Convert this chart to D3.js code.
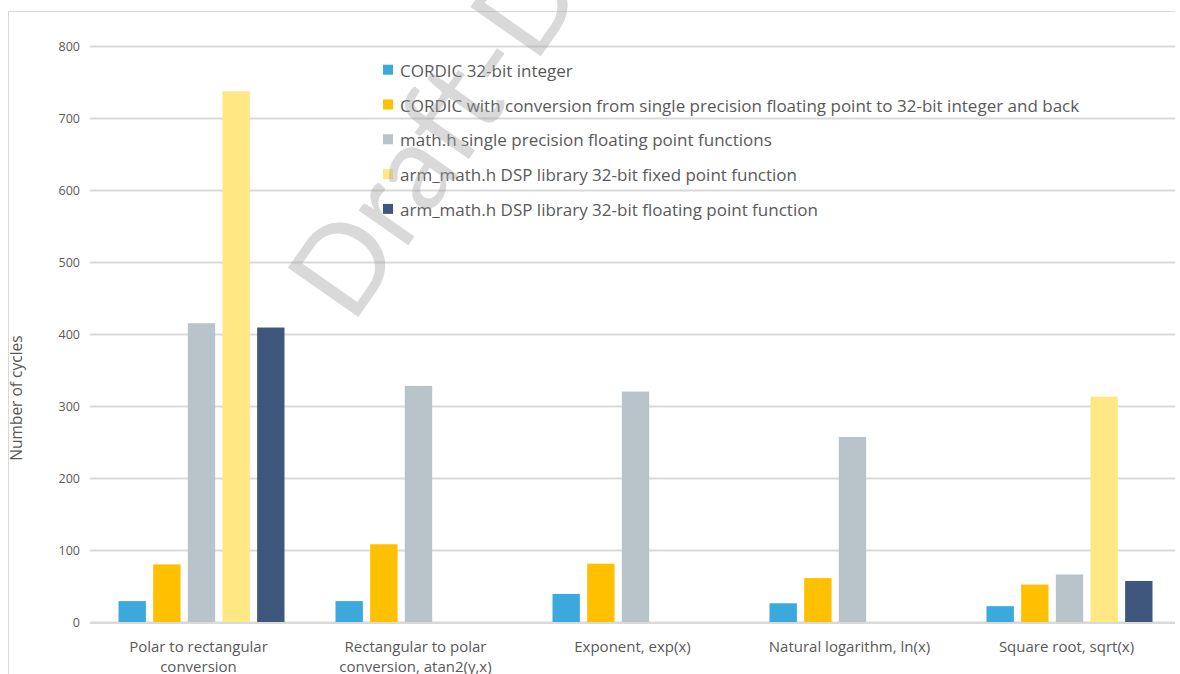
<!DOCTYPE html>
<html><head><meta charset="utf-8">
<script src="https://cdn.jsdelivr.net/npm/d3@7"></script>
<style>html,body{margin:0;padding:0;background:#fff;}svg{display:block;font-family:"Open Sans",sans-serif;}</style>
</head><body><svg id="c" width="1180" height="674"></svg>
<script>
const categories = [
  ["Polar to rectangular", "conversion"],
  ["Rectangular to polar", "conversion, atan2(y,x)"],
  ["Exponent, exp(x)"],
  ["Natural logarithm, ln(x)"],
  ["Square root, sqrt(x)"]
];
const seriesNames = [
  "CORDIC 32-bit integer",
  "CORDIC with conversion from single precision floating point to 32-bit integer and back",
  "math.h single precision floating point functions",
  "arm_math.h DSP library 32-bit fixed point function",
  "arm_math.h DSP library 32-bit floating point function"
];
const seriesColors = ["#3BA9DC", "#FFC000", "#B8C4CA", "#FFE783", "#3F577D"];
const cordicInt   = [29, 29, 39, 26, 22];
const cordicConv  = [80, 108, 81, 61, 52];
const mathH       = [415, 328, 320, 257, 66];
const armFixed    = [737, null, null, null, 313];
const armFloat    = [409, null, null, null, 57];
const seriesValues = [cordicInt, cordicConv, mathH, armFixed, armFloat];
const yTicks = [0, 100, 200, 300, 400, 500, 600, 700, 800];
const yTitle = "Number of cycles";
const watermark = "Draft-Do not distribute";

const svg = d3.select("#c");
const mLeft = 90, mRight = 1175, mTop = 46, mBottom = 622;
const x0 = d3.scaleBand().domain(d3.range(categories.length)).range([mLeft, mRight]);
const x1 = d3.scaleBand().domain(d3.range(seriesNames.length)).range([0, 166]).paddingInner(0.21).paddingOuter(0);
const y = d3.scaleLinear().domain([0, 800]).range([mBottom, mTop]);

// frame
svg.append("line").attr("x1", 8.5).attr("x2", 8.5).attr("y1", 11).attr("y2", 674).attr("stroke", "#d9d9d9").attr("stroke-width", 1);
svg.append("line").attr("x1", 8).attr("x2", 1175).attr("y1", 11.5).attr("y2", 11.5).attr("stroke", "#d9d9d9").attr("stroke-width", 1);

// gridlines
const yAxis = d3.axisLeft(y).tickValues(yTicks).tickSize(-(mRight - mLeft)).tickPadding(10).tickFormat(d3.format("d"));
const ga = svg.append("g").attr("transform", `translate(${mLeft},0)`).call(yAxis);
ga.select(".domain").remove();
ga.selectAll(".tick line").attr("stroke", "#d9d9d9").attr("stroke-width", 2);
ga.selectAll(".tick text").attr("fill", "#595959").attr("font-size", 12.5).attr("font-family", "Open Sans");

// bars
const groups = svg.append("g").selectAll("g").data(categories).join("g")
  .attr("transform", (d, i) => `translate(${x0(i) + x0.bandwidth() / 2 - 80},0)`);
groups.selectAll("rect").data((d, i) => seriesValues.map((s, k) => ({k, v: s[i]})).filter(o => o.v != null))
  .join("rect")
  .attr("x", o => x1(o.k))
  .attr("width", x1.bandwidth())
  .attr("y", o => y(o.v))
  .attr("height", o => y(0) - y(o.v))
  .attr("fill", o => seriesColors[o.k]);

// zero line on top
svg.append("line").attr("x1", mLeft).attr("x2", mRight).attr("y1", y(0) + 1).attr("y2", y(0) + 1).attr("stroke", "#d9d9d9").attr("stroke-width", 2);

// x labels
const xl = svg.append("g").selectAll("text").data(categories).join("text")
  .attr("x", (d, i) => x0(i) + x0.bandwidth() / 2)
  .attr("y", 652)
  .attr("text-anchor", "middle").attr("fill", "#595959").attr("font-size", 15);
xl.selectAll("tspan").data(d => d).join("tspan")
  .attr("x", function() { return d3.select(this.parentNode).attr("x"); })
  .attr("dy", (d, j) => j === 0 ? 0 : 20).text(d => d);

// y title
svg.append("text").attr("transform", "translate(22,398) rotate(-90)").attr("text-anchor", "middle")
  .attr("fill", "#595959").attr("font-size", 15.5).text(yTitle);

// legend
const lg = svg.append("g").selectAll("g").data(seriesNames).join("g")
  .attr("transform", (d, i) => `translate(383,${70.7 + i * 34.8})`);
lg.append("rect").attr("x", 0).attr("y", -6).attr("width", 10).attr("height", 10).attr("fill", (d, i) => seriesColors[i]);
lg.append("text").attr("x", 17).attr("y", 6).attr("fill", "#595959").attr("font-size", 17).text(d => d);

// watermark
svg.append("text").attr("transform", "translate(352,326) rotate(-55)")
  .attr("font-size", 120).attr("font-weight", 400).attr("fill", "#a0a0a0").attr("fill-opacity", 0.4)
  .attr("font-family", "Lato").text(watermark);
</script></body></html>
